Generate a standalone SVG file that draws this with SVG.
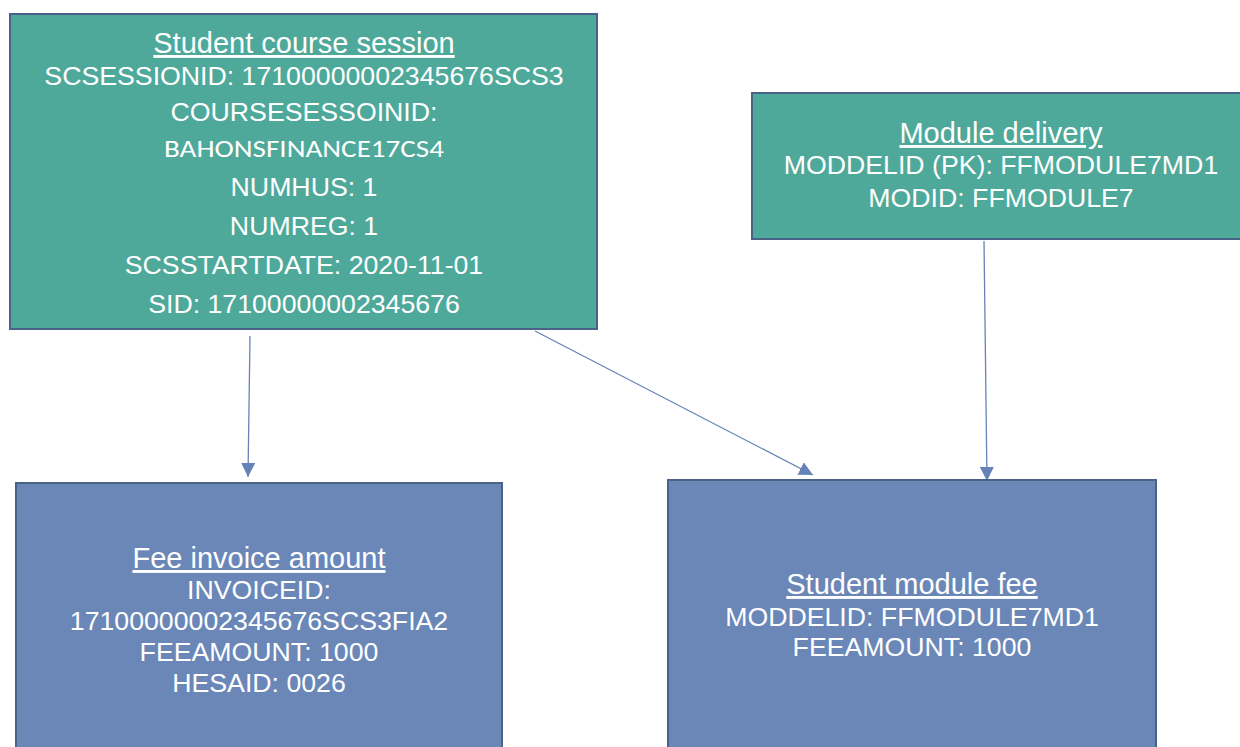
<svg xmlns="http://www.w3.org/2000/svg" width="1240" height="747" viewBox="0 0 1240 747">
<style>
.green{fill:#4EA99A;stroke:#4A6188;stroke-width:2}
.blue{fill:#6A87B8;stroke:#4A6188;stroke-width:2}
text{font-family:"Liberation Sans",Arial,sans-serif;font-size:26.7px;fill:#fff;text-anchor:middle}
.t{text-decoration:underline;font-size:29px}
.cal{font-family:Carlito,"Noto Sans",sans-serif;font-size:25px}
.conn{stroke:#6683B8;stroke-width:1.3;fill:none}
</style>
<defs>
<marker id="ah" markerUnits="userSpaceOnUse" markerWidth="16" markerHeight="16" refX="14" refY="7" orient="auto">
<path d="M0,0 L14,7 L0,14 z" fill="#6683B8"/>
</marker>
</defs>
<rect width="1240" height="747" fill="#fff"/>
<g id="connectors">
<line class="conn" x1="250" y1="336" x2="248" y2="477" marker-end="url(#ah)"/>
<line class="conn" x1="535" y1="331" x2="813" y2="475" marker-end="url(#ah)"/>
<line class="conn" x1="984" y1="241" x2="987" y2="481" marker-end="url(#ah)"/>
</g>
<g id="student-course-session">
<rect class="green" x="10" y="14" width="587" height="315"/>
<text class="t" x="304" y="53">Student course session</text>
<text x="304" y="85">SCSESSIONID: 17100000002345676SCS3</text>
<text x="304" y="121">COURSESESSOINID:</text>
<text class="cal" x="304" y="157" textLength="280" lengthAdjust="spacingAndGlyphs">BAHONSFINANCE17CS4</text>
<text x="304" y="196">NUMHUS: 1</text>
<text x="304" y="235">NUMREG: 1</text>
<text x="304" y="274">SCSSTARTDATE: 2020-11-01</text>
<text x="304" y="313">SID: 17100000002345676</text>
</g>
<g id="module-delivery">
<rect class="green" x="752" y="93" width="500" height="146"/>
<text class="t" x="1001" y="143">Module delivery</text>
<text x="1001" y="174">MODDELID (PK): FFMODULE7MD1</text>
<text x="1001" y="207">MODID: FFMODULE7</text>
</g>
<g id="fee-invoice-amount">
<rect class="blue" x="16" y="483" width="486" height="270"/>
<text class="t" x="259" y="568">Fee invoice amount</text>
<text x="259" y="599">INVOICEID:</text>
<text x="259" y="630">17100000002345676SCS3FIA2</text>
<text x="259" y="661">FEEAMOUNT: 1000</text>
<text x="259" y="692">HESAID: 0026</text>
</g>
<g id="student-module-fee">
<rect class="blue" x="668" y="480" width="488" height="275"/>
<text class="t" x="912" y="594">Student module fee</text>
<text x="912" y="626">MODDELID: FFMODULE7MD1</text>
<text x="912" y="656">FEEAMOUNT: 1000</text>
</g>
</svg>
